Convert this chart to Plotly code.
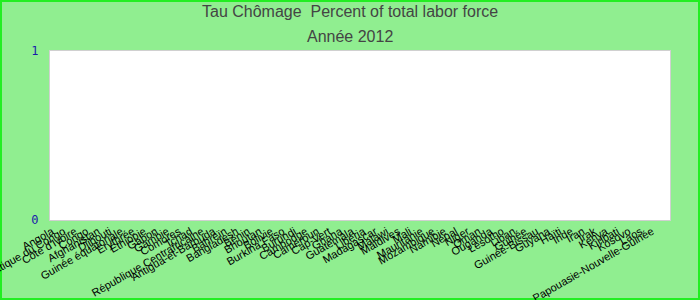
import plotly.graph_objects as go

countries = [
    "Angola", "République Démocratique du Congo", "Côte d'Ivoire", "Congo", "Afghanistan",
    "Djibouti", "Guinée équatoriale", "Érythrée", "Éthiopie", "Gabon", "Gambie", "Comores",
    "Tchad", "République Centrafricaine", "Antigua-et-Barbuda", "Bahreïn", "Bangladesh",
    "Bénin", "Bhoutan", "Bolivie", "Burkina Faso", "Burundi", "Cambodge", "Cameroun",
    "Cap-Vert", "Ghana", "Guatemala", "Libéria", "Madagascar", "Malawi", "Maldives", "Mali",
    "Mauritanie", "Mozambique", "Namibie", "Népal", "Niger", "Oman", "Ouganda", "Lesotho",
    "Liban", "Guinée", "Guinée-Bissau", "Guyana", "Haïti", "Inde", "Iran", "Irak", "Kenya",
    "Kiribati", "Kosovo", "Laos", "Papouasie-Nouvelle-Guinée",
]
# No values are drawn for 2012 in the reference
values = [None, None, None, None, None, None, None, None, None, None, None, None, None,
          None, None, None, None, None, None, None, None, None, None, None, None, None,
          None, None, None, None, None, None, None, None, None, None, None, None, None,
          None, None, None, None, None, None, None, None, None, None, None, None, None, None]

W, H = 700, 300
ml, mr, mt, mb = 50, 30, 51, 80
pw, ph = W - ml - mr, H - mt - mb

fig = go.Figure(go.Bar(x=countries, y=values, marker_color="#4472c4"))

n = len(countries)
step = 600 / (n - 1)
r0 = -2 / step
r1 = r0 + pw / step

fig.update_layout(
    width=W, height=H,
    margin=dict(l=ml, r=mr, t=mt, b=mb),
    paper_bgcolor="#90ee90",
    plot_bgcolor="white",
    font=dict(family="Liberation Sans, Arial, sans-serif", color="black"),
    showlegend=False,
    annotations=[
        dict(text="Tau Chômage  Percent of total labor force", x=(350 - ml) / pw,
             y=1 + (mt - 12) / ph, xref="paper", yref="paper", yanchor="middle",
             showarrow=False, font=dict(size=16, color="#444")),
        dict(text="Année 2012", x=(350 - ml) / pw, y=1 + (mt - 36) / ph, xref="paper",
             yref="paper", yanchor="middle", showarrow=False,
             font=dict(size=16, color="#444")),
    ],
    shapes=[dict(type="rect", xref="paper", yref="paper",
                 x0=-ml / pw + 1 / pw, x1=1 + mr / pw - 1 / pw,
                 y0=-mb / ph + 1 / ph, y1=1 + mt / ph - 1 / ph,
                 line=dict(color="#22ee22", width=2), layer="below")],
)

fig.update_xaxes(type="category", categoryorder="array", categoryarray=countries,
                 tickmode="array", tickvals=countries, ticktext=countries,
                 range=[r0, r1], tickangle=-30, tickfont=dict(size=11, color="black"),
                 showline=True, linecolor="#d0d0d0", mirror=True, showgrid=False,
                 ticks="", automargin=False, fixedrange=True)
fig.update_yaxes(range=[0, 1], tickvals=[0, 1], ticktext=["0", "1"],
                 tickfont=dict(size=12, color="#1a1aaa", family="DejaVu Sans Mono"),
                 showline=True, linecolor="#d0d0d0", mirror=True, showgrid=False,
                 zeroline=False, ticks="", ticklabelstandoff=8, automargin=False)

fig.write_html("out.html")
